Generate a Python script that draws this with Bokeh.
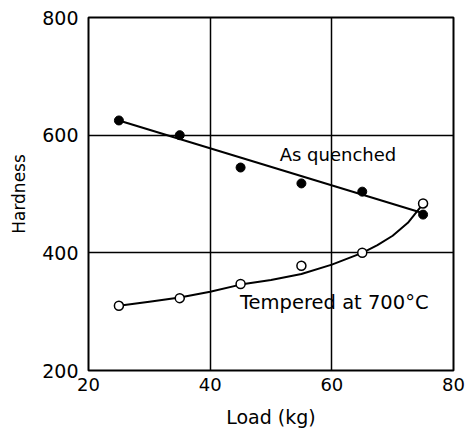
from bokeh.plotting import figure
from bokeh.models import Range1d, FixedTicker, Label
from bokeh.embed import file_html
from bokeh.resources import INLINE

# Data
load_quenched = [25, 35, 45, 55, 65, 75]
hard_quenched = [625, 600, 545, 518, 504, 465]
fit_quenched_load = [25, 74.5]
fit_quenched_hard = [625, 469]

load_tempered = [25, 35, 45, 55, 65, 75]
hard_tempered = [310, 323, 347, 378, 400, 484]
curve_tempered_load = [25, 30, 35, 40, 45, 50, 55, 60, 65, 67.5, 70, 72.5, 74.6]
curve_tempered_hard = [310, 317, 324, 334, 346, 354, 364, 380, 400, 413, 429, 451, 478]

x_ticks = [20, 40, 60, 80]
y_ticks = [200, 400, 600, 800]

FONT = "DejaVu Sans"

p = figure(width=471, height=430, output_backend="svg", toolbar_location=None,
           x_range=Range1d(20, 80), y_range=Range1d(200, 800),
           min_border_left=88, min_border_right=18, min_border_top=17, min_border_bottom=59)

p.outline_line_color = "black"
p.outline_line_width = 2
p.background_fill_color = "white"
p.border_fill_color = "white"

p.xaxis.ticker = FixedTicker(ticks=x_ticks)
p.yaxis.ticker = FixedTicker(ticks=y_ticks)
for ax in (p.xaxis, p.yaxis):
    ax.axis_line_color = None
    ax.major_tick_line_color = None
    ax.minor_tick_line_color = None
    ax.major_label_text_font = FONT
    ax.major_label_text_color = "black"
    ax.axis_label_text_font = FONT
    ax.axis_label_text_font_style = "normal"
    ax.axis_label_text_color = "black"

p.xaxis.major_label_text_font_size = "18px"
p.yaxis.major_label_text_font_size = "19px"
p.xaxis.major_label_standoff = 1
p.yaxis.major_label_standoff = 4
p.xaxis.axis_label = "Load (kg)"
p.yaxis.axis_label = "Hardness"
p.xaxis.axis_label_text_font_size = "19px"
p.yaxis.axis_label_text_font_size = "17px"
p.xaxis.axis_label_standoff = 12
p.yaxis.axis_label_standoff = 10

p.xgrid.ticker = FixedTicker(ticks=x_ticks)
p.ygrid.ticker = FixedTicker(ticks=y_ticks)
p.grid.grid_line_color = "black"
p.grid.grid_line_width = 1.5
p.grid.grid_line_alpha = 1.0

# As quenched
p.line(fit_quenched_load, fit_quenched_hard, line_color="black", line_width=2)
p.scatter(load_quenched, hard_quenched, size=9, marker="circle",
          fill_color="black", line_color="black")

# Tempered at 700 C
p.line(curve_tempered_load, curve_tempered_hard, line_color="black", line_width=2)
p.scatter(load_tempered, hard_tempered, size=9, marker="circle",
          fill_color="white", line_color="black", line_width=1.5)

p.add_layout(Label(x=61, y=567, text="As quenched", text_font=FONT,
                   text_font_size="18px", text_align="center", text_baseline="middle",
                   text_color="black"))
p.add_layout(Label(x=60.4, y=315, text="Tempered at 700°C", text_font=FONT,
                   text_font_size="19.5px", text_align="center", text_baseline="middle",
                   text_color="black"))

open("out.html", "w").write(file_html(p, INLINE))
